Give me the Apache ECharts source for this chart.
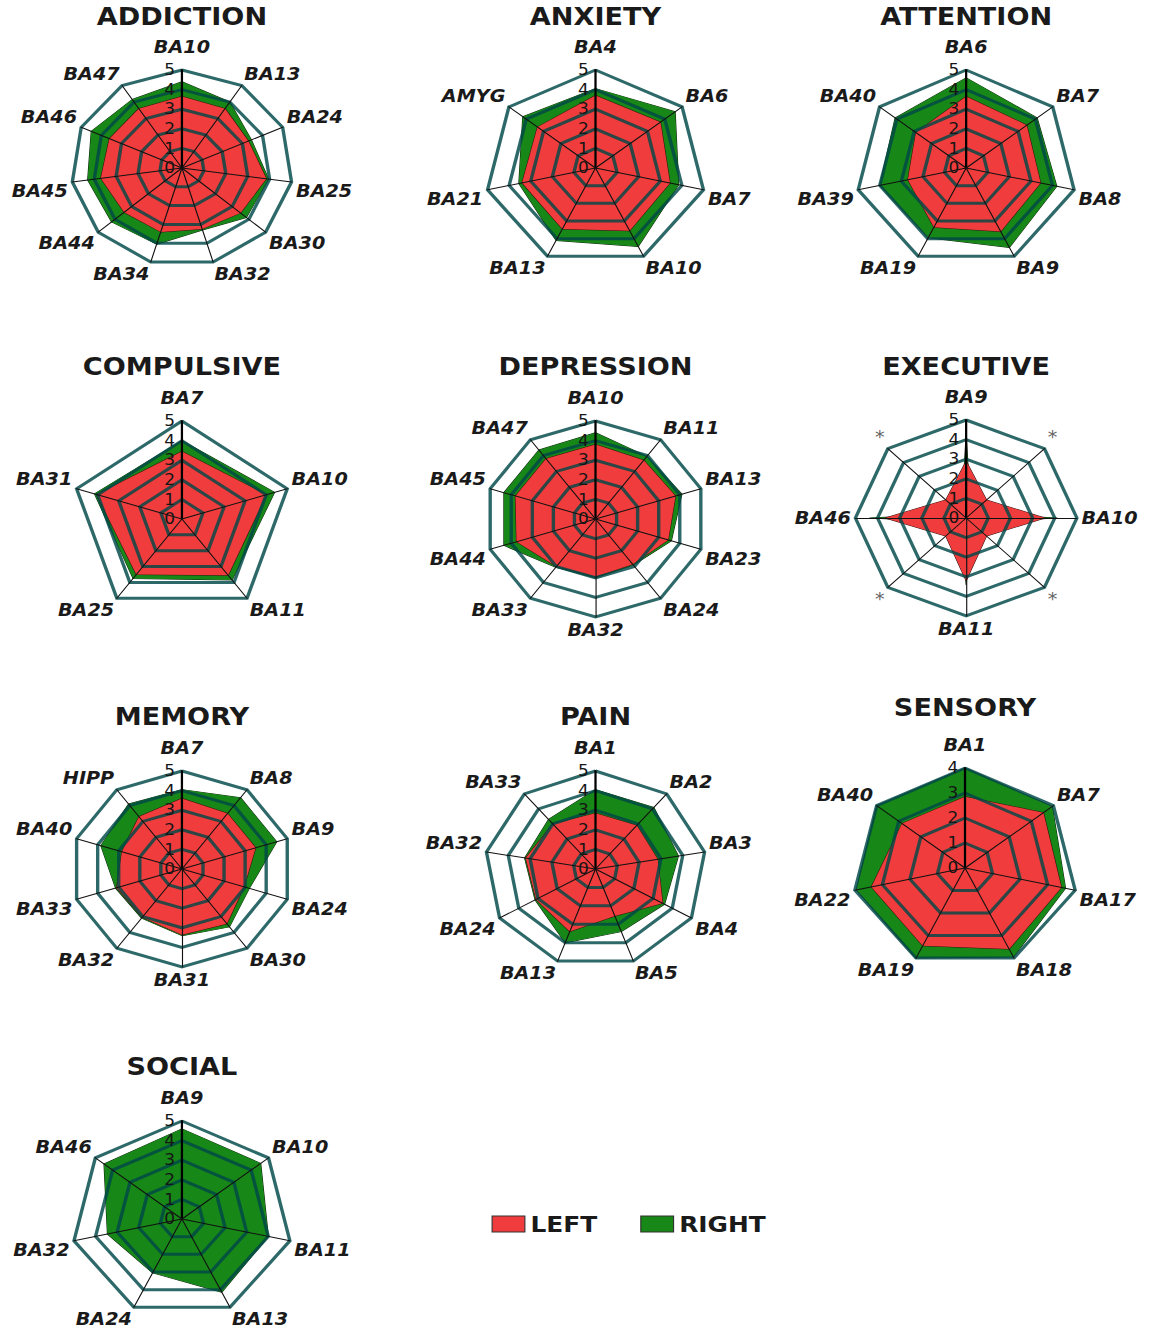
<!DOCTYPE html>
<html>
<head>
<meta charset="utf-8">
<script src="https://cdn.jsdelivr.net/npm/echarts@6/dist/echarts.min.js"></script>
<style>
  html, body { margin: 0; padding: 0; background: #fff; overflow: hidden; }
  #wrap { width: 1151px; height: 1332px; overflow: hidden; }
  /* the source picture is stretched sideways, so the chart is too */
  #main { width: 1019px; height: 1332px; transform: scaleX(1.13); transform-origin: 0 0; }
</style>
</head>
<body>
<div id="wrap"><div id="main"></div></div>
<script>
// ---- data (clockwise from the top axis) ----
const addictionAxes = ['BA10', 'BA13', 'BA24', 'BA25', 'BA30', 'BA32', 'BA34', 'BA44', 'BA45', 'BA46', 'BA47'];
const addictionLeft = [3.65, 3.6, 3.3, 3.85, 3.5, 3.25, 3.4, 3.45, 3.7, 3.6, 3.6];
const addictionRight = [4.4, 4.0, 3.45, 3.95, 3.85, 3.3, 4.05, 4.2, 4.3, 4.5, 4.15];

const anxietyAxes = ['BA4', 'BA6', 'BA7', 'BA10', 'BA13', 'BA21', 'AMYG'];
const anxietyLeft = [3.7, 3.75, 3.45, 3.55, 3.45, 3.4, 3.35];
const anxietyRight = [4.05, 4.6, 3.85, 4.45, 4.1, 3.55, 4.2];

const attentionAxes = ['BA6', 'BA7', 'BA8', 'BA9', 'BA19', 'BA39', 'BA40'];
const attentionLeft = [3.65, 3.5, 3.45, 3.6, 3.35, 2.7, 2.9];
const attentionRight = [4.6, 4.1, 4.2, 4.5, 3.95, 4.0, 4.1];

const compulsiveAxes = ['BA7', 'BA10', 'BA11', 'BA25', 'BA31'];
const compulsiveLeft = [3.45, 4.0, 3.55, 3.5, 4.05];
const compulsiveRight = [4.0, 4.4, 3.85, 3.75, 4.15];

const depressionAxes = ['BA10', 'BA11', 'BA13', 'BA23', 'BA24', 'BA32', 'BA33', 'BA44', 'BA45', 'BA47'];
const depressionLeft = [3.8, 3.7, 3.8, 3.45, 2.85, 2.95, 3.0, 3.75, 3.8, 3.8];
const depressionRight = [4.4, 3.95, 4.1, 3.6, 2.9, 3.0, 3.05, 4.35, 4.35, 4.35];

const executiveAxes = ['BA9', '*', 'BA10', '*', 'BA11', '*', 'BA46', '*'];
const executiveLeft = [2.9, 1.3, 3.55, 1.3, 3.2, 1.3, 3.65, 1.3];
const executiveRight = [4.25, 0.3, 4.1, 0.3, 3.4, 0.3, 4.35, 0.3];

const memoryAxes = ['BA7', 'BA8', 'BA9', 'BA24', 'BA30', 'BA31', 'BA32', 'BA33', 'BA40', 'HIPP'];
const memoryLeft = [3.6, 3.5, 3.5, 2.95, 3.45, 3.35, 3.05, 3.1, 2.85, 3.3];
const memoryRight = [4.05, 4.5, 4.5, 3.2, 3.65, 3.4, 3.1, 3.15, 3.85, 4.1];

const painAxes = ['BA1', 'BA2', 'BA3', 'BA4', 'BA5', 'BA13', 'BA24', 'BA32', 'BA33'];
const painLeft = [2.85, 2.9, 2.85, 3.5, 2.55, 3.4, 3.1, 3.2, 3.0];
const painRight = [4.05, 4.1, 3.8, 3.6, 3.4, 4.0, 3.15, 3.25, 3.3];

const sensoryAxes = ['BA1', 'BA7', 'BA17', 'BA18', 'BA19', 'BA22', 'BA40'];
const sensoryLeft = [2.85, 3.55, 3.5, 3.6, 3.45, 3.4, 2.85];
const sensoryRight = [4.0, 3.95, 3.65, 3.95, 4.0, 3.95, 4.0];

const socialAxes = ['BA9', 'BA10', 'BA11', 'BA13', 'BA24', 'BA32', 'BA46'];
const socialRight = [4.6, 4.55, 4.0, 4.15, 3.05, 3.45, 4.5];

const seriesNames = ['LEFT', 'RIGHT'];

// ---- layout ----
const FONT = 'DejaVu Sans';
const RED = '#f03c3c';
const GREEN = '#178717';

const panels = [
  { title: 'ADDICTION', axes: addictionAxes, left: addictionLeft, right: addictionRight, max: 5, cx: 161, cy: 168, ty: 6 },
  { title: 'ANXIETY', axes: anxietyAxes, left: anxietyLeft, right: anxietyRight, max: 5, cx: 527, cy: 168, ty: 6 },
  { title: 'ATTENTION', axes: attentionAxes, left: attentionLeft, right: attentionRight, max: 5, cx: 855, cy: 168, ty: 6 },
  { title: 'COMPULSIVE', axes: compulsiveAxes, left: compulsiveLeft, right: compulsiveRight, max: 5, cx: 161, cy: 519, ty: 356 },
  { title: 'DEPRESSION', axes: depressionAxes, left: depressionLeft, right: depressionRight, max: 5, cx: 527, cy: 519, ty: 356 },
  { title: 'EXECUTIVE', axes: executiveAxes, left: executiveLeft, right: executiveRight, max: 5, cx: 855, cy: 518, ty: 356 },
  { title: 'MEMORY', axes: memoryAxes, left: memoryLeft, right: memoryRight, max: 5, cx: 161, cy: 869, ty: 706 },
  { title: 'PAIN', axes: painAxes, left: painLeft, right: painRight, max: 5, cx: 527, cy: 869, ty: 706 },
  { title: 'SENSORY', axes: sensoryAxes, left: sensoryLeft, right: sensoryRight, max: 4, cx: 854, cy: 868, ty: 697 },
  { title: 'SOCIAL', axes: socialAxes, left: null, right: socialRight, max: 5, cx: 161, cy: 1219, ty: 1056 }
];

// echarts lays indicators out counter-clockwise, the source goes clockwise
function cw(arr) {
  return [arr[0]].concat(arr.slice(1).reverse());
}

function makeIndicators(p) {
  const n = p.axes.length;
  const list = p.axes.map(function (name, k) {
    const a = (90 - k * 360 / n) * Math.PI / 180;
    const c = Math.cos(a), s = Math.sin(a);
    const ind = {
      name: name,
      min: 0,
      max: p.max,
      nameGap: k === 0 ? 15 : 4,
      nameTextStyle: {
        align: c > 0.05 ? 'left' : (c < -0.05 ? 'right' : 'center'),
        verticalAlign: s > 0.05 ? 'bottom' : (s < -0.05 ? 'top' : 'middle')
      }
    };
    if (name === '*') {
      ind.nameTextStyle.color = '#666';
      ind.nameTextStyle.fontWeight = 'normal';
      ind.nameTextStyle.fontStyle = 'normal';
    }
    if (k === 0) {
      // only the top axis carries the 0..max numbers
      ind.axisLabel = {
        show: true,
        color: '#151515',
        fontFamily: FONT,
        fontSize: 15,
        margin: 6,
        padding: [0, 0, 6, 0]
      };
      ind.axisLine = { lineStyle: { color: '#000', width: 2 } };
    }
    return ind;
  });
  return cw(list);
}

const myChart = echarts.init(document.getElementById('main'), null, { renderer: 'svg' });

const radars = panels.map(function (p) {
  return {
    center: [p.cx, p.cy],
    radius: p.max === 4 ? 100 : 98,
    startAngle: 90,
    shape: 'polygon',
    splitNumber: p.max,
    z: 5,
    indicator: makeIndicators(p),
    axisName: {
      color: '#1a1a1a',
      fontFamily: FONT,
      fontSize: 17,
      fontWeight: 'bold',
      fontStyle: 'italic'
    },
    axisLine: { lineStyle: { color: '#111', width: 1 } },
    axisTick: { show: false },
    axisLabel: { show: false },
    splitLine: { lineStyle: { color: 'rgba(0, 72, 72, 0.82)', width: 3 } },
    splitArea: { show: false }
  };
});

const series = panels.map(function (p, i) {
  const data = [{
    name: 'RIGHT',
    value: cw(p.right),
    itemStyle: { color: GREEN },
    lineStyle: { color: '#102a10', width: 1 },
    areaStyle: { color: GREEN, opacity: 1 }
  }];
  if (p.left) {
    data.push({
      name: 'LEFT',
      value: cw(p.left),
      itemStyle: { color: RED },
      lineStyle: { color: '#3a1212', width: 1 },
      areaStyle: { color: RED, opacity: 1 }
    });
  }
  return {
    type: 'radar',
    radarIndex: i,
    symbol: 'none',
    silent: true,
    z: 2,
    data: data
  };
});

const titles = panels.map(function (p) {
  return {
    text: p.title,
    left: p.cx,
    top: p.ty - 1,
    textAlign: 'center',
    padding: 0,
    textStyle: { fontFamily: FONT, fontSize: 24, fontWeight: 'bold', color: '#1a1a1a' }
  };
});

myChart.setOption({
  backgroundColor: '#fff',
  animation: false,
  title: titles,
  legend: {
    data: [
      { name: seriesNames[0], itemStyle: { color: RED } },
      { name: seriesNames[1], itemStyle: { color: GREEN } }
    ],
    left: 435,
    top: 1213,
    padding: 0,
    icon: 'rect',
    itemWidth: 29,
    itemHeight: 16,
    itemGap: 38,
    selectedMode: false,
    itemStyle: { borderColor: '#333', borderWidth: 1 },
    textStyle: { fontFamily: FONT, fontSize: 22, fontWeight: 'bold', color: '#1a1a1a' }
  },
  radar: radars,
  series: series
});
</script>
</body>
</html>
